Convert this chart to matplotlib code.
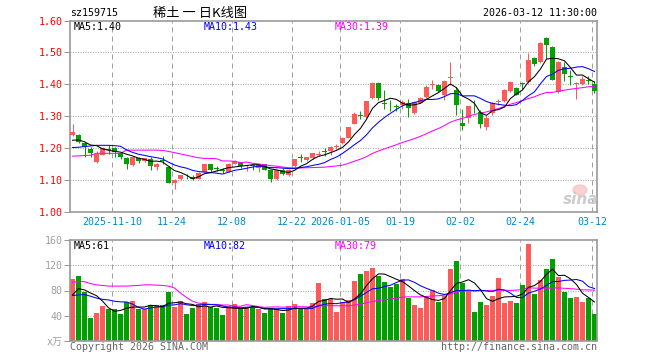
import numpy as np
import pandas as pd
import matplotlib
matplotlib.use('Agg')
import matplotlib.pyplot as plt
from matplotlib.patches import Ellipse

# daily K data of sz159715
opens = [1.241, 1.241, 1.217, 1.197, 1.157, 1.180, 1.197, 1.201, 1.185, 1.170,
         1.148, 1.168, 1.160, 1.166, 1.140, 1.162, 1.140, 1.092, 1.103, 1.111,
         1.110, 1.104, 1.126, 1.150, 1.137, 1.132, 1.126, 1.152, 1.157, 1.143,
         1.146, 1.138, 1.149, 1.131, 1.103, 1.131, 1.116, 1.144, 1.172, 1.162,
         1.168, 1.180, 1.190, 1.192, 1.205, 1.215, 1.233, 1.277, 1.303, 1.298,
         1.357, 1.405, 1.342, 1.336, 1.331, 1.334, 1.343, 1.310, 1.343, 1.360,
         1.398, 1.397, 1.368, 1.421, 1.381, 1.279, 1.296, 1.346, 1.313, 1.267,
         1.310, 1.346, 1.347, 1.378, 1.389, 1.404, 1.407, 1.482, 1.470, 1.546,
         1.517, 1.376, 1.454, 1.425, 1.400, 1.400, 1.414, 1.400]
highs = [1.275, 1.244, 1.218, 1.204, 1.190, 1.203, 1.209, 1.203, 1.186, 1.171,
         1.176, 1.172, 1.169, 1.172, 1.153, 1.175, 1.143, 1.102, 1.117, 1.118,
         1.116, 1.124, 1.151, 1.151, 1.143, 1.137, 1.155, 1.163, 1.158, 1.147,
         1.152, 1.150, 1.151, 1.132, 1.133, 1.138, 1.135, 1.166, 1.181, 1.172,
         1.186, 1.192, 1.200, 1.206, 1.212, 1.234, 1.268, 1.315, 1.317, 1.349,
         1.407, 1.407, 1.383, 1.350, 1.339, 1.352, 1.353, 1.347, 1.359, 1.397,
         1.415, 1.400, 1.414, 1.470, 1.392, 1.324, 1.333, 1.350, 1.321, 1.303,
         1.346, 1.355, 1.386, 1.411, 1.392, 1.408, 1.499, 1.485, 1.532, 1.550,
         1.519, 1.472, 1.470, 1.445, 1.407, 1.426, 1.425, 1.410]
lows = [1.238, 1.215, 1.173, 1.173, 1.155, 1.178, 1.183, 1.173, 1.166, 1.135,
        1.144, 1.155, 1.158, 1.131, 1.131, 1.150, 1.090, 1.073, 1.101, 1.102,
        1.100, 1.102, 1.124, 1.125, 1.128, 1.122, 1.124, 1.150, 1.138, 1.127,
        1.132, 1.126, 1.131, 1.095, 1.100, 1.115, 1.114, 1.142, 1.158, 1.160,
        1.166, 1.175, 1.176, 1.178, 1.198, 1.213, 1.231, 1.275, 1.292, 1.296,
        1.355, 1.350, 1.324, 1.318, 1.318, 1.324, 1.298, 1.308, 1.341, 1.358,
        1.387, 1.376, 1.350, 1.397, 1.303, 1.258, 1.279, 1.310, 1.262, 1.256,
        1.305, 1.334, 1.345, 1.376, 1.366, 1.387, 1.405, 1.458, 1.468, 1.480,
        1.413, 1.374, 1.412, 1.397, 1.355, 1.398, 1.400, 1.372]
closes = [1.251, 1.218, 1.204, 1.185, 1.183, 1.200, 1.195, 1.188, 1.173, 1.150,
          1.173, 1.160, 1.168, 1.145, 1.152, 1.160, 1.092, 1.100, 1.116, 1.109,
          1.104, 1.122, 1.150, 1.131, 1.135, 1.130, 1.150, 1.160, 1.143, 1.145,
          1.143, 1.149, 1.133, 1.105, 1.131, 1.118, 1.133, 1.165, 1.170, 1.171,
          1.185, 1.182, 1.188, 1.204, 1.207, 1.232, 1.267, 1.306, 1.300, 1.347,
          1.405, 1.357, 1.340, 1.334, 1.329, 1.345, 1.327, 1.345, 1.357, 1.392,
          1.400, 1.378, 1.412, 1.424, 1.334, 1.269, 1.331, 1.344, 1.275, 1.296,
          1.342, 1.348, 1.384, 1.409, 1.368, 1.402, 1.478, 1.465, 1.530, 1.522,
          1.415, 1.470, 1.433, 1.423, 1.405, 1.416, 1.412, 1.379]
volumes = [98, 103, 78, 36, 44, 55, 50, 50, 43, 61.5,
           63.7, 51, 50, 57, 57, 57, 78, 54, 63, 43,
           52, 58, 62, 53.5, 52, 40.7, 55.6, 58, 51, 54,
           54, 51, 44, 52, 50, 44, 55, 59, 51, 51,
           60, 92.6, 67, 66, 45.5, 61.5, 64.7, 95, 106.5, 111,
           116, 103, 93.6, 86, 90, 98, 68.5, 56.7, 52, 70,
           80.8, 62, 71.7, 114.5, 127, 92.6, 79.7, 45.5, 61.5, 56.7,
           71, 100, 60, 63, 60, 89, 153, 74.4, 96.8, 114.5,
           130.5, 101.6, 77.6, 68, 69.5, 61.5, 68, 42.3]

# moving averages before enough bars exist in the window
ma5_head = [1.225, 1.226, 1.220, 1.210]
ma10_head = [1.202, 1.203, 1.205, 1.207, 1.209, 1.209, 1.209, 1.208, 1.206]
ma30_head = [1.175, 1.176, 1.177, 1.178, 1.184, 1.184, 1.184, 1.184, 1.184, 1.194,
             1.194, 1.194, 1.194, 1.194, 1.194, 1.193, 1.190, 1.186, 1.182, 1.178,
             1.174, 1.170, 1.168, 1.168, 1.167, 1.160, 1.160, 1.159, 1.155]
vma5_head = [73, 83, 81, 76]
vma10_head = [72, 73, 73.5, 71, 68, 66, 65, 63, 62]
vma30_head = [93, 94, 94, 91, 89, 88, 87, 87, 87, 87, 87.5, 88, 89, 89, 88.5,
              88, 87, 84, 76, 69, 63, 60, 59, 58, 58, 57, 57, 55, 55]

tick_idx = [7, 17, 27, 37, 45, 55, 65, 75, 87]
tick_labels = ['2025-11-10', '11-24', '12-08', '12-22', '2026-01-05',
               '01-19', '02-02', '02-24', '03-12']


def moving(values, n, head):
    m = pd.Series(values).rolling(n).mean().to_numpy()
    m[:n - 1] = head
    return m


RED = '#ff5a5a'
GREEN = '#00a000'
GRAY = '#999999'
mono = 'DejaVu Sans Mono'
px = 0.72

fig = plt.figure(figsize=(6.6, 3.6), dpi=100)
ax = fig.add_axes([70 / 660, 1 - 212 / 360, 527 / 660, 191.4 / 360])
axv = fig.add_axes([70 / 660, 1 - 341 / 360, 527 / 660, 101 / 360])

n = len(closes)
x = np.arange(n)
o = np.array(opens)
c = np.array(closes)
colors = [RED if cc >= oo else GREEN for oo, cc in zip(o, c)]

for a in (ax, axv):
    a.set_xlim(-0.417, n - 1 + 0.417)
    for s in a.spines.values():
        s.set_color(GRAY)
        s.set_linewidth(1.2)
    for t in tick_idx:
        a.axvline(t - 0.417, color='#a0a0a0', lw=px, ls=(0, (5, 4)), zorder=0)

# candles
ax.vlines(x, lows, highs, colors=colors, lw=px, zorder=2)
body = np.abs(c - o)
small = body < 0.002
ax.bar(x[~small], body[~small], bottom=np.minimum(o, c)[~small], width=0.83,
       color=np.array(colors)[~small], zorder=3, linewidth=0)
ax.hlines(c[small], x[small] - 0.42, x[small] + 0.42,
          colors=np.array(colors)[small], lw=px * 1.3, zorder=3)

ax.plot(x, moving(closes, 30, ma30_head), color='#ff00ff', lw=0.75, zorder=4)
ax.plot(x, moving(closes, 10, ma10_head), color='#0000ff', lw=0.75, zorder=4)
ax.plot(x, moving(closes, 5, ma5_head), color='black', lw=0.75, zorder=5)

ax.set_ylim(1.0, 1.6)
yt = [1.0, 1.1, 1.2, 1.3, 1.4, 1.5, 1.6]
ax.set_yticks(yt)
ax.set_yticklabels(['%.2f' % v for v in yt], family=mono, fontsize=7.2, color='red')
for v in yt[1:-1]:
    ax.axhline(v, color='#a8a8a8', lw=px, ls=(0, (1, 1.5)), zorder=0)
ax.set_xticks([t - 0.417 for t in tick_idx])
ax.set_xticklabels(tick_labels, family=mono, fontsize=7.2, color='#0088cc')
ax.tick_params(axis='x', length=0, pad=3.5)
ax.tick_params(axis='y', length=4, width=px, color=GRAY, pad=1.5)

# volume
axv.bar(x, volumes, width=0.83, color=colors, linewidth=0, zorder=2)
axv.plot(x, moving(volumes, 30, vma30_head), color='#ff00ff', lw=0.75, zorder=4)
axv.plot(x, moving(volumes, 10, vma10_head), color='#0000ff', lw=0.75, zorder=4)
axv.plot(x, moving(volumes, 5, vma5_head), color='black', lw=0.75, zorder=5)
axv.set_ylim(0, 160)
axv.set_yticks([0, 40, 80, 120, 160])
axv.set_yticklabels(['x万', '40', '80', '120', '160'], family=[mono, 'Noto Sans CJK SC'],
                    fontsize=7.2, color='#a0a0a0')
for v in [40, 80, 120]:
    axv.axhline(v, color='#a8a8a8', lw=px, ls=(0, (1, 1.5)), zorder=0)
axv.set_xticks([])
axv.tick_params(axis='y', length=4, width=px, color=GRAY, pad=1.5)


def ftext(xp, yp, s, **kw):
    kw.setdefault('family', mono)
    kw.setdefault('fontsize', 7.2)
    kw.setdefault('va', 'center')
    fig.text(xp / 660, 1 - yp / 360, s, **kw)


ftext(70, 13, 'sz159715')
ftext(200, 13, '稀土 一 日K线图', family=['Noto Sans CJK SC', 'DejaVu Sans'],
      fontsize=9.5, ha='center')
ftext(597, 13, '2026-03-12 11:30:00', ha='right')
ftext(74, 27, 'MA5:1.40', color='black')
ftext(204, 27, 'MA10:1.43', color='#0000ff')
ftext(335, 27, 'MA30:1.39', color='#ff00ff')
ftext(74, 246, 'MA5:61', color='black')
ftext(204, 246, 'MA10:82', color='#0000ff')
ftext(335, 246, 'MA30:79', color='#ff00ff')
ftext(70, 347, 'Copyright 2026 SINA.COM', color='#666666')
ftext(597, 347, 'http://finance.sina.com.cn', color='#666666', ha='right')

# sina watermark
fig.patches.append(Ellipse((580 / 660, 1 - 190 / 360), 14 / 660, 10 / 360,
                           transform=fig.transFigure, color='#f6c0c0', alpha=0.7))
ftext(581, 200, 'sina', family='DejaVu Sans', fontsize=11, fontweight='bold',
      style='italic', color='#cccccc', ha='center')

fig.savefig('out.png', dpi=100)
